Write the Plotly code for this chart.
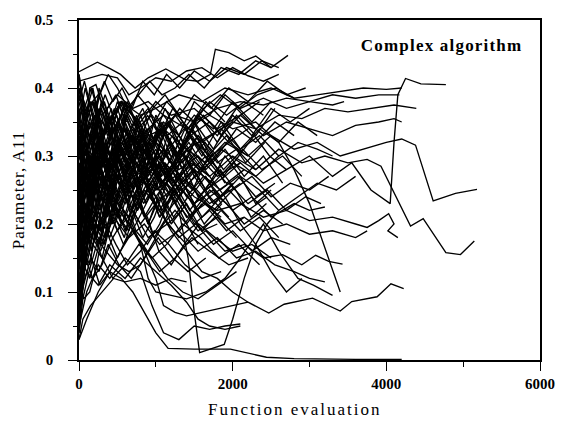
import plotly.graph_objects as go

# Each run: list of (function evaluation, parameter A11) vertices
runs_far = [
    [(0,.18),(100,.26),(250,.33),(400,.30),(600,.34),(800,.31),(1000,.33),(1250,.36),(1500,.35),(1800,.37),(2100,.38),(2400,.375),(2700,.385),(3000,.38),(3300,.39),(3600,.385),(3900,.39),(4170,.39)],
    [(0,.25),(120,.30),(300,.27),(500,.32),(700,.29),(900,.33),(1100,.34),(1400,.31),(1700,.33),(2000,.35),(2300,.34),(2600,.36),(2900,.355),(3200,.37),(3500,.365),(3800,.37),(4100,.375),(4390,.37)],
    [(0,.12),(150,.22),(300,.29),(450,.25),(650,.30),(850,.27),(1050,.31),(1300,.28),(1550,.30),(1800,.27),(2100,.29),(2400,.26),(2700,.28),(3000,.30),(3300,.27),(3550,.29),(3800,.25),(4050,.23),(4100,.32),(4150,.39),(4250,.414),(4450,.406),(4775,.405)],
    [(0,.2),(150,.28),(300,.24),(500,.31),(700,.28),(900,.30),(1150,.27),(1400,.31),(1650,.29),(1900,.32),(2200,.30),(2500,.33),(2800,.31),(3100,.32),(3400,.30),(3700,.31),(4000,.32),(4200,.325),(4380,.316),(4610,.234),(4900,.245),(5180,.251)],
    [(0,.15),(120,.24),(300,.20),(500,.27),(700,.24),(950,.28),(1200,.25),(1450,.29),(1700,.27),(2000,.30),(2300,.28),(2600,.31),(2900,.29),(3200,.30),(3500,.29),(3750,.295),(3930,.285),(4315,.197),(4480,.208),(4775,.158),(4965,.155),(5145,.175)],
    [(0,.08),(100,.15),(250,.22),(400,.18),(600,.24),(800,.20),(1000,.23),(1200,.19),(1400,.16),(1600,.13),(1800,.12),(2000,.10),(2200,.085),(2470,.069),(2670,.082),(3040,.091),(3400,.072),(3550,.086),(3880,.093),(4060,.112),(4226,.105)],
    [(0,.3),(150,.26),(350,.31),(550,.27),(750,.29),(1000,.25),(1250,.27),(1500,.24),(1800,.22),(2100,.23),(2400,.21),(2700,.22),(3000,.205),(3300,.21),(3600,.2),(3750,.195),(3900,.205),(4030,.215),(4100,.2),(4020,.19),(4150,.18)],
    [(0,.03),(100,.06),(250,.1),(400,.13),(550,.12),(700,.10),(850,.07),(1000,.04),(1160,.017),(1500,.016),(1970,.016),(2200,.01),(2440,.004),(2800,.002),(3200,.001),(3600,.001),(4000,.001),(4200,.001)],
    [(0,.35),(100,.31),(250,.36),(400,.33),(600,.37),(800,.35),(1000,.38),(1200,.36),(1500,.37),(1800,.34),(2100,.36),(2400,.33),(2700,.35),(3000,.34),(3300,.33),(3600,.345),(3900,.35),(4100,.355),(4200,.35)],
    [(0,.22),(150,.3),(350,.34),(550,.38),(800,.36),(1000,.37),(1300,.39),(1600,.38),(1900,.40),(2200,.39),(2500,.40),(2800,.385),(3100,.39),(3400,.395),(3700,.40),(4000,.398),(4200,.40)],
]

runs_mid = [
    [(0,.424),(240,.438),(410,.428),(540,.42),(730,.40),(900,.415),(1130,.428),(1390,.412),(1550,.41),(1710,.42),(1775,.457),(1950,.452),(2150,.44),(2300,.447),(2500,.43),(2720,.448)],
    [(0,.41),(150,.415),(300,.42),(500,.415),(650,.39),(800,.40),(1000,.415),(1200,.41),(1400,.425),(1600,.43),(1800,.415),(2000,.43),(2200,.418),(2400,.41),(2600,.42)],
    [(0,.06),(80,.15),(200,.25),(350,.3),(500,.27),(700,.33),(900,.30),(1100,.35),(1300,.33),(1500,.38),(1700,.36),(1900,.39),(2100,.37),(2400,.385),(2700,.37),(3000,.38),(3300,.375),(3450,.38)],
    [(0,.4),(100,.37),(250,.39),(400,.35),(550,.38),(750,.34),(950,.36),(1150,.33),(1350,.35),(1600,.32),(1850,.34),(2100,.31),(2350,.33),(2600,.30),(2850,.32),(3100,.31),(3300,.30)],
    [(0,.1),(120,.18),(300,.15),(450,.22),(650,.19),(850,.25),(1050,.22),(1250,.26),(1500,.23),(1750,.25),(2000,.22),(2250,.24),(2500,.21),(2800,.23),(3000,.22),(3200,.225)],
    [(0,.27),(100,.22),(250,.29),(400,.24),(600,.30),(800,.26),(1000,.29),(1250,.25),(1500,.28),(1700,.24),(1950,.26),(2200,.23),(2450,.25),(2700,.22),(2950,.24),(3150,.23)],
    [(0,.33),(150,.38),(300,.36),(500,.39),(700,.37),(900,.38),(1100,.36),(1300,.33),(1500,.30),(1700,.27),(1900,.24),(2100,.20),(2300,.17),(2500,.13),(2700,.10),(2900,.12)],
    [(0,.25),(150,.2),(300,.24),(500,.19),(700,.22),(900,.18),(1150,.2),(1400,.17),(1650,.19),(1900,.16),(2150,.17),(2400,.15),(2650,.155),(2900,.14),(3080,.154),(3250,.145),(3430,.141)],
    [(0,.14),(120,.19),(280,.16),(450,.21),(650,.18),(850,.2),(1050,.17),(1300,.19),(1550,.16),(1800,.18),(2050,.15),(2300,.16),(2550,.14),(2800,.13),(3000,.12),(3200,.115)],
    [(0,.31),(100,.27),(250,.32),(400,.28),(600,.25),(800,.27),(1000,.23),(1200,.25),(1400,.21),(1650,.23),(1900,.2),(2150,.21),(2400,.19),(2700,.2),(3000,.185),(3300,.19),(3600,.18),(3750,.19)],
    [(0,.28),(150,.33),(300,.3),(500,.35),(700,.32),(900,.34),(1100,.36),(1400,.34),(1700,.36),(2000,.34),(2300,.35),(2600,.32),(2800,.28),(3000,.23),(3150,.18),(3300,.13),(3400,.1)],
]

runs_low = [
    [(0,.05),(100,.1),(250,.14),(400,.12),(600,.15),(800,.13),(950,.08),(1100,.04),(1300,.03),(1500,.05),(1700,.045),(1900,.05),(2100,.053)],
    [(0,.2),(150,.28),(300,.25),(500,.3),(700,.27),(900,.28),(1100,.26),(1300,.22),(1420,.15),(1500,.07),(1570,.011),(1750,.018),(1890,.023),(2000,.06),(2150,.12),(2300,.17),(2450,.2),(2600,.22)],
    [(0,.12),(150,.2),(300,.17),(450,.23),(650,.2),(850,.16),(1000,.12),(1100,.08),(1250,.07),(1400,.065),(1600,.07),(1800,.075),(2000,.08),(2200,.085)],
    [(0,.09),(100,.13),(250,.11),(400,.14),(600,.12),(800,.15),(1000,.13),(1200,.11),(1400,.085),(1550,.06),(1700,.05),(1900,.045),(2100,.05)],
    [(0,.16),(120,.22),(280,.19),(450,.24),(650,.21),(800,.17),(900,.12),(1000,.1),(1200,.095),(1400,.09),(1650,.1),(1900,.12),(2100,.15),(2400,.2),(2600,.16),(2850,.12),(3050,.11),(3300,.095)],
    [(0,.03),(50,.06),(150,.08),(300,.1),(450,.12),(600,.115),(800,.12),(1000,.11),(1200,.12),(1400,.115)],
]

runs_lowband = [
    [(0,.07),(60,.11),(150,.15),(260,.13),(380,.17),(520,.14),(680,.12),(850,.15),(1030,.18),(1220,.15),(1420,.13),(1650,.15)],
    [(0,.11),(80,.16),(180,.19),(300,.15),(440,.12),(600,.14),(780,.17),(960,.15),(1150,.12),(1350,.1),(1550,.09),(1800,.11),(2050,.13)],
    [(0,.04),(50,.09),(130,.13),(230,.17),(350,.2),(480,.17),(630,.14),(800,.16),(980,.19),(1170,.17),(1380,.14),(1600,.12),(1850,.13)],
    [(0,.14),(70,.18),(160,.15),(270,.11),(400,.13),(540,.16),(700,.19),(870,.16),(1050,.13),(1250,.15),(1470,.18),(1700,.16),(1950,.14),(2200,.15)],
    [(0,.19),(80,.15),(180,.12),(300,.14),(440,.18),(600,.21),(770,.18),(950,.15),(1140,.17),(1350,.2),(1580,.18),(1820,.15),(2080,.17),(2350,.14)],
    [(0,.26),(100,.22),(220,.18),(350,.16),(500,.14),(650,.13),(800,.14),(950,.17),(1100,.2),(1250,.22),(1400,.2),(1550,.17)],
    [(0,.28),(150,.25),(320,.3),(500,.27),(700,.24),(900,.28),(1100,.31),(1300,.27),(1500,.23),(1700,.26),(1900,.3),(2100,.27),(2300,.23),(2500,.25)],
    [(0,.34),(140,.3),(300,.26),(480,.29),(680,.33),(880,.3),(1080,.26),(1280,.3),(1480,.34),(1680,.3),(1880,.27),(2080,.3),(2280,.33),(2480,.3),(2700,.28)],
    [(0,.18),(130,.23),(280,.27),(450,.24),(640,.21),(840,.25),(1040,.29),(1240,.26),(1440,.22),(1640,.25),(1840,.28),(2040,.25),(2240,.21),(2440,.23)],
]

runs_dense = [
    [(0,.42),(80,.36),(180,.40),(300,.33),(420,.37),(550,.30),(700,.34),(850,.29),(1000,.32),(1200,.3)],
    [(0,.05),(60,.12),(150,.2),(250,.27),(350,.32),(450,.29),(600,.35),(750,.31),(900,.34),(1100,.3),(1300,.33),(1500,.29)],
    [(0,.38),(100,.33),(200,.36),(300,.29),(420,.32),(560,.26),(700,.3),(850,.27),(1000,.3),(1200,.28),(1400,.31),(1600,.28),(1800,.3)],
    [(0,.2),(60,.3),(140,.4),(220,.405),(320,.37),(420,.33),(550,.36),(700,.3),(850,.33),(1000,.28),(1200,.31),(1400,.27),(1650,.3),(1900,.27),(2100,.29)],
    [(0,.1),(80,.2),(180,.31),(260,.4),(350,.37),(450,.34),(600,.3),(750,.33),(900,.28),(1100,.31),(1300,.27),(1500,.29)],
    [(0,.32),(70,.26),(170,.3),(280,.22),(400,.27),(530,.23),(680,.28),(830,.24),(1000,.27),(1200,.24),(1450,.26),(1700,.23),(1950,.25),(2200,.22),(2450,.24)],
    [(0,.24),(90,.19),(200,.26),(320,.21),(450,.28),(600,.24),(750,.3),(900,.26),(1050,.29),(1250,.25),(1500,.28),(1750,.26),(2000,.29),(2300,.27),(2600,.3)],
    [(0,.17),(80,.23),(180,.2),(300,.27),(420,.23),(560,.29),(700,.25),(850,.31),(1000,.27),(1150,.33),(1350,.29),(1550,.33),(1800,.3),(2050,.34),(2300,.32),(2550,.35),(2800,.33)],
    [(0,.28),(100,.34),(200,.3),(320,.36),(450,.32),(600,.38),(750,.35),(900,.37),(1050,.33),(1250,.36),(1450,.33),(1700,.35),(1950,.32),(2200,.34)],
    [(0,.07),(50,.14),(130,.24),(220,.3),(330,.26),(460,.31),(600,.27),(750,.32),(900,.28),(1050,.3),(1250,.26),(1450,.29)],
    [(0,.36),(120,.3),(240,.34),(360,.27),(500,.31),(650,.25),(800,.29),(950,.24),(1100,.28),(1300,.24),(1500,.27),(1750,.23),(2000,.26)],
    [(0,.22),(70,.27),(160,.23),(260,.29),(380,.25),(500,.3),(650,.26),(800,.32),(950,.28),(1100,.34),(1300,.3),(1500,.35),(1750,.31),(2000,.36),(2250,.33),(2500,.37),(2750,.35),(3000,.37)],
    [(0,.3),(80,.35),(180,.31),(280,.37),(400,.33),(530,.38),(680,.34),(830,.37),(980,.32),(1150,.35),(1350,.3),(1550,.33),(1800,.29),(2050,.31),(2300,.28)],
    [(0,.13),(60,.19),(150,.26),(250,.22),(360,.28),(480,.24),(620,.29),(770,.25),(920,.3),(1080,.26),(1250,.28),(1450,.24),(1650,.27),(1850,.23)],
    [(0,.26),(100,.21),(220,.27),(340,.22),(470,.26),(600,.21),(750,.25),(900,.2),(1050,.24),(1200,.2),(1400,.23),(1600,.19),(1850,.22),(2100,.19),(2350,.21),(2600,.18)],
    [(0,.34),(80,.29),(180,.35),(290,.3),(410,.34),(540,.29),(690,.33),(840,.28),(1000,.31),(1180,.27),(1380,.3),(1600,.26)],
    [(0,.19),(100,.25),(210,.21),(330,.27),(460,.23),(600,.27),(760,.22),(920,.26),(1080,.22),(1250,.25),(1450,.21),(1700,.24),(1950,.21)],
    [(0,.4),(90,.35),(190,.38),(300,.32),(420,.36),(560,.31),(720,.35),(880,.3),(1050,.34),(1230,.29),(1430,.32),(1650,.28),(1900,.31),(2150,.27),(2400,.3),(2650,.26)],
    [(0,.11),(70,.17),(160,.22),(260,.19),(370,.24),(490,.21),(620,.26),(760,.22),(900,.25),(1050,.21),(1220,.24),(1400,.2),(1600,.23)],
    [(0,.29),(90,.24),(200,.3),(310,.25),(430,.31),(560,.26),(700,.32),(850,.27),(1000,.33),(1180,.29),(1380,.34),(1600,.3),(1850,.35),(2100,.31),(2350,.34),(2600,.32),(2850,.35),(3100,.33)],
    [(0,.21),(80,.17),(180,.23),(290,.19),(410,.25),(540,.21),(690,.27),(840,.23),(1000,.26),(1170,.22),(1350,.25),(1550,.22)],
    [(0,.37),(100,.31),(200,.27),(310,.32),(430,.28),(560,.33),(700,.29),(850,.34),(1000,.3),(1160,.35),(1350,.31),(1550,.36),(1800,.33),(2050,.37),(2300,.34)],
    [(0,.15),(90,.21),(200,.28),(300,.34),(400,.3),(520,.35),(650,.31),(800,.36),(950,.32),(1120,.37),(1300,.33),(1500,.36),(1750,.34),(2000,.38),(2250,.35),(2500,.38)],
    [(0,.33),(70,.28),(160,.24),(260,.29),(370,.25),(490,.3),(620,.26),(760,.31),(900,.27),(1050,.3),(1220,.26),(1420,.29),(1650,.25),(1900,.27)],
    [(0,.25),(80,.31),(170,.27),(270,.33),(380,.29),(500,.34),(640,.3),(790,.35),(940,.31),(1100,.34),(1270,.3),(1470,.33),(1700,.29)],
    [(0,.09),(60,.16),(140,.14),(230,.2),(330,.18),(440,.23),(560,.2),(700,.25),(850,.21),(1000,.24),(1150,.2),(1350,.22),(1550,.19),(1800,.21),(2050,.18)],
    [(0,.2),(70,.25),(150,.33),(240,.29),(350,.35),(470,.31),(600,.36),(740,.32),(890,.36),(1050,.33),(1220,.37),(1420,.34),(1650,.38),(1900,.35)],
    [(0,.35),(80,.4),(170,.36),(270,.31),(380,.35),(500,.3),(640,.34),(790,.29),(950,.33),(1120,.28),(1300,.32),(1500,.27),(1720,.3)],
    [(0,.27),(60,.32),(140,.28),(230,.34),(330,.3),(440,.26),(570,.3),(710,.25),(860,.29),(1020,.25),(1200,.28),(1400,.24),(1620,.27),(1850,.24),(2100,.26)],
    [(0,.18),(100,.14),(210,.2),(330,.17),(460,.23),(600,.19),(750,.24),(900,.2),(1060,.25),(1230,.21),(1420,.24),(1630,.2),(1860,.23)],
    [(0,.31),(70,.36),(160,.32),(260,.37),(370,.33),(490,.36),(620,.31),(760,.35),(910,.3),(1070,.34),(1250,.3),(1450,.33)],
    [(0,.23),(90,.28),(190,.24),(300,.3),(420,.26),(550,.31),(700,.27),(860,.32),(1030,.28),(1210,.33),(1410,.29),(1640,.32),(1880,.28),(2130,.31),(2380,.28),(2650,.3),(2900,.27)],
    [(0,.39),(100,.34),(210,.38),(330,.33),(460,.37),(600,.32),(750,.36),(910,.31),(1080,.35),(1260,.3),(1460,.34),(1680,.3),(1920,.33),(2170,.29),(2420,.32)],
    [(0,.16),(70,.22),(160,.19),(260,.25),(370,.21),(490,.27),(630,.23),(780,.28),(940,.24),(1110,.29),(1300,.25),(1520,.28)],
    [(0,.3),(110,.25),(230,.3),(360,.26),(500,.32),(650,.28),(810,.33),(980,.29),(1160,.35),(1350,.31),(1560,.36),(1800,.32),(2050,.36),(2300,.33),(2550,.37)],
]

runs_early = [
    [(0,.05),(40,.12),(100,.22),(170,.3),(250,.35),(350,.31),(460,.34)],
    [(0,.08),(50,.15),(120,.25),(200,.32),(290,.37),(390,.34),(500,.38),(620,.35)],
    [(0,.42),(60,.37),(130,.31),(210,.35),(300,.29),(400,.33),(510,.28)],
    [(0,.14),(40,.22),(100,.3),(170,.27),(250,.33),(340,.29),(440,.34),(550,.3),(670,.33)],
    [(0,.33),(50,.25),(120,.3),(200,.22),(290,.27),(390,.23),(500,.28),(620,.24),(750,.27)],
    [(0,.26),(50,.33),(120,.37),(200,.33),(290,.38),(390,.35),(500,.37),(620,.33)],
    [(0,.19),(40,.14),(100,.2),(170,.16),(250,.22),(340,.18),(440,.23),(550,.2)],
    [(0,.37),(40,.3),(100,.25),(170,.29),(250,.23),(340,.27),(440,.22),(550,.26),(670,.22),(800,.25)],
    [(0,.12),(30,.08),(80,.15),(150,.21),(230,.18),(320,.24),(420,.2),(530,.25)],
    [(0,.23),(40,.3),(100,.35),(170,.38),(250,.36),(340,.39),(440,.36),(550,.38),(670,.35)],
]

runs_wander = [
    [(0,.36),(60,.28),(150,.2),(260,.17),(380,.22),(500,.3),(620,.36),(760,.33),(900,.26),(1050,.21),(1200,.24),(1350,.31),(1500,.35),(1700,.3),(1900,.26)],
    [(0,.1),(70,.2),(160,.28),(260,.33),(360,.29),(470,.21),(590,.18),(720,.24),(860,.3),(1000,.36),(1150,.33),(1300,.27),(1480,.25),(1680,.3)],
    [(0,.4),(80,.33),(170,.27),(270,.24),(380,.28),(500,.35),(630,.38),(780,.34),(930,.29),(1080,.25),(1240,.28),(1420,.33),(1620,.36),(1850,.33),(2100,.36),(2350,.38)],
    [(0,.04),(40,.1),(100,.17),(180,.24),(270,.3),(370,.37),(480,.39),(600,.35),(730,.28),(870,.23),(1020,.27),(1180,.32),(1350,.29),(1550,.24),(1750,.26)],
    [(0,.3),(70,.37),(160,.4),(260,.36),(370,.29),(490,.22),(620,.19),(760,.23),(910,.29),(1070,.34),(1240,.31),(1420,.26),(1620,.28),(1850,.31),(2100,.29)],
    [(0,.2),(60,.14),(140,.12),(240,.16),(350,.22),(470,.27),(600,.24),(740,.19),(890,.17),(1050,.2),(1220,.25),(1400,.22),(1600,.19),(1800,.2)],
    [(0,.27),(70,.21),(160,.16),(260,.2),(370,.27),(490,.33),(620,.37),(760,.35),(910,.3),(1070,.27),(1240,.29),(1420,.34),(1620,.37),(1840,.39),(2080,.37),(2320,.39),(2560,.4),(2800,.385)],
    [(0,.17),(50,.25),(120,.32),(210,.36),(310,.32),(420,.26),(540,.24),(670,.29),(810,.33),(960,.37),(1120,.39),(1300,.36),(1500,.32),(1720,.3),(1950,.32),(2200,.3)],
    [(0,.33),(80,.3),(170,.34),(270,.39),(380,.42),(500,.4),(630,.37),(770,.39),(920,.41),(1080,.39),(1250,.4),(1430,.42),(1630,.4),(1850,.43),(2080,.42),(2300,.44),(2500,.43)],
    [(0,.13),(60,.09),(140,.1),(230,.14),(330,.2),(440,.26),(560,.31),(690,.28),(830,.22),(980,.18),(1140,.21),(1310,.26),(1500,.29),(1700,.27)],
    [(0,.24),(60,.31),(140,.35),(230,.31),(330,.25),(440,.2),(560,.23),(690,.28),(830,.26),(980,.3),(1140,.34),(1310,.37),(1500,.35),(1700,.38),(1920,.36),(2150,.38),(2400,.36)],
    [(0,.38),(70,.41),(160,.37),(260,.31),(370,.28),(490,.31),(620,.36),(760,.39),(910,.37),(1070,.32),(1240,.28),(1420,.3),(1620,.27),(1840,.25),(2070,.27),(2300,.24),(2550,.26)],
    [(0,.07),(40,.13),(100,.21),(170,.27),(250,.3),(340,.26),(440,.22),(550,.25),(670,.3),(800,.34),(940,.3),(1090,.26),(1250,.29),(1430,.33),(1630,.31)],
    [(0,.29),(60,.25),(140,.3),(230,.35),(330,.38),(440,.34),(560,.28),(690,.22),(830,.18),(980,.21),(1140,.26),(1310,.24),(1500,.2),(1700,.22),(1920,.19),(2150,.21)],
    [(0,.22),(50,.17),(120,.22),(200,.28),(290,.24),(390,.18),(500,.15),(620,.18),(750,.23),(890,.21),(1040,.16),(1200,.14),(1370,.17),(1560,.2),(1770,.18),(2000,.16),(2250,.17),(2500,.15)],
    [(0,.35),(60,.3),(140,.24),(230,.27),(330,.33),(440,.36),(560,.33),(690,.3),(830,.33),(980,.28),(1140,.24),(1310,.27),(1500,.32),(1700,.29),(1920,.26),(2150,.28)],
    [(0,.16),(60,.23),(140,.28),(230,.25),(330,.3),(440,.35),(560,.38),(690,.36),(830,.32),(980,.35),(1140,.38),(1310,.36),(1500,.39),(1720,.37),(1950,.4),(2200,.38),(2450,.41),(2700,.39),(2950,.4)],
    [(0,.26),(80,.2),(170,.25),(270,.32),(380,.28),(500,.23),(630,.2),(770,.25),(920,.32),(1080,.28),(1250,.23),(1430,.26),(1630,.23),(1850,.21)],
    [(0,.41),(60,.38),(140,.34),(230,.38),(330,.41),(440,.38),(560,.4),(690,.37),(830,.41),(980,.39),(1140,.42),(1310,.4),(1500,.425),(1700,.41),(1920,.43),(2150,.42),(2380,.44),(2600,.43)],
    [(0,.19),(60,.26),(140,.22),(230,.18),(330,.22),(440,.28),(560,.33),(690,.29),(830,.24),(980,.27),(1140,.22),(1310,.19),(1500,.22),(1700,.25),(1920,.23),(2150,.2),(2400,.22),(2650,.2)],
    [(0,.32),(120,.27),(260,.22),(420,.26),(600,.23),(800,.27),(1000,.24),(1250,.28),(1500,.25),(1750,.22),(2000,.25),(2250,.27),(2500,.24),(2750,.26),(3000,.25),(3250,.27)],
    [(0,.21),(100,.27),(230,.31),(380,.27),(550,.32),(730,.29),(920,.25),(1120,.29),(1350,.26),(1600,.21),(1850,.24),(2100,.27),(2350,.25),(2600,.22),(2850,.24),(3100,.26),(3350,.25),(3600,.27)],
    [(0,.09),(80,.16),(180,.2),(300,.25),(430,.21),(580,.17),(740,.2),(920,.24),(1100,.21),(1300,.18),(1520,.2),(1750,.17),(2000,.19),(2250,.16),(2500,.18),(2750,.17)],
]

x_ticks = [0, 2000, 4000, 6000]
y_ticks = [0, 0.1, 0.2, 0.3, 0.4, 0.5]

fig = go.Figure()
for group in (runs_far, runs_mid, runs_low, runs_lowband, runs_dense, runs_early, runs_wander):
    for run in group:
        fig.add_trace(go.Scatter(
            x=[p[0] for p in run], y=[p[1] for p in run], mode="lines",
            line=dict(color="black", width=1.35), showlegend=False, hoverinfo="skip"))

serif = "Liberation Serif"
axis_common = dict(showline=True, linecolor="black", linewidth=1.5, mirror=True,
                   showgrid=False, zeroline=False, ticks="outside", ticklen=9,
                   tickwidth=1.3, tickcolor="black",
                   tickfont=dict(family=serif, size=15, color="black", weight="bold"))
fig.update_xaxes(range=[0, 6000], tickvals=x_ticks, ticktext=[str(v) for v in x_ticks],
                 minor=dict(dtick=1000, ticks="outside", ticklen=5, tickcolor="black", tickwidth=1.2),
                 **axis_common)
fig.update_yaxes(range=[0, 0.5], tickvals=y_ticks, ticktext=["0", "0.1", "0.2", "0.3", "0.4", "0.5"],
                 minor=dict(dtick=0.05, ticks="outside", ticklen=4, tickcolor="black", tickwidth=1.2),
                 ticklabelstandoff=12, **axis_common)

fig.add_annotation(text="Complex algorithm", xref="paper", yref="paper", x=0.786, y=0.925,
                   xanchor="center", yanchor="middle", showarrow=False,
                   font=dict(family=serif, size=17, color="black", weight="bold"))
fig.add_annotation(text="Function evaluation", xref="paper", yref="paper", x=0.468, y=-0.147,
                   xanchor="center", yanchor="middle", showarrow=False,
                   font=dict(family=serif, size=17, color="black"))
fig.add_annotation(text="Parameter, A11", xref="paper", yref="paper", x=-0.132, y=0.5,
                   xanchor="center", yanchor="middle", showarrow=False, textangle=-90,
                   font=dict(family=serif, size=17, color="black"))

fig.update_layout(width=567, height=426, margin=dict(l=79, r=18, t=12, b=66),
                  paper_bgcolor="white", plot_bgcolor="white")

spacing_js = """
var gd = document.getElementById('{plot_id}');
function spaceText() {
  var sp = {'Function evaluation': '2px', 'Parameter, A11': '1px', 'Complex algorithm': '1.2px'};
  document.querySelectorAll('.annotation-text').forEach(function (t) {
    var s = sp[t.textContent];
    if (s) { t.style.letterSpacing = s; }
  });
}
spaceText();
if (gd && gd.on) { gd.on('plotly_afterplot', spaceText); }
"""
fig.write_html("out.html", post_script=spacing_js)
